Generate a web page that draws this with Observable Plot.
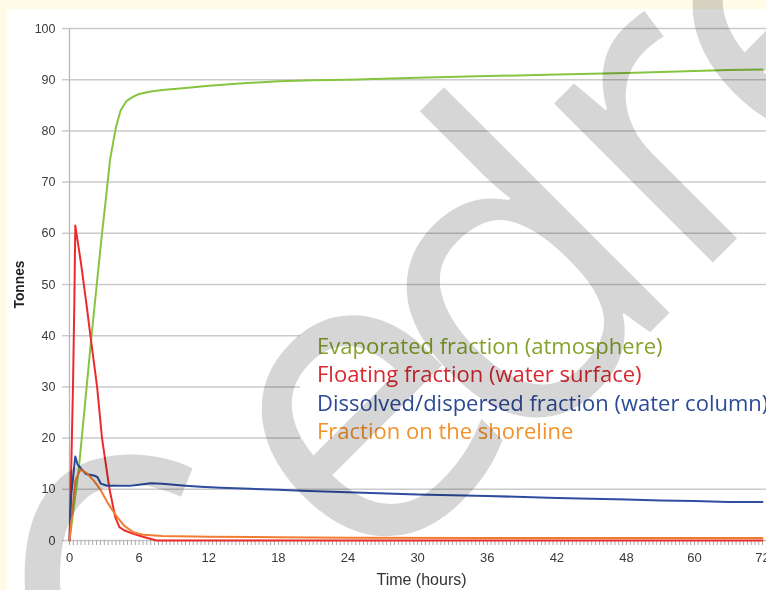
<!DOCTYPE html>
<html><head><meta charset="utf-8">
<script src="https://cdn.jsdelivr.net/npm/d3@7"></script>
<script src="https://cdn.jsdelivr.net/npm/@observablehq/plot@0.6"></script>
<style>
html,body{margin:0;padding:0;background:#fefbe6;width:766px;height:590px;overflow:hidden;position:relative;}
#wrap{position:absolute;left:7px;top:9px;width:800px;height:581px;background:#fff;overflow:hidden;}
#legend{position:absolute;left:293px;top:312px;width:520px;height:128px;background:#fff;box-sizing:border-box;padding:10px 0 0 17px;font-family:'Open Sans',sans-serif;font-size:22px;line-height:28.3px;white-space:nowrap;}
#wm{position:absolute;left:0;top:0;mix-blend-mode:multiply;pointer-events:none;}
</style>
</head>
<body>
<div id="wrap"><div id="chart"></div><div id="legend"></div></div>
<script>
const seriesNames = ["Evaporated fraction (atmosphere)", "Floating fraction (water surface)", "Dissolved/dispersed fraction (water column)", "Fraction on the shoreline"];
const lineColors = ["#86c441", "#ec2b2b", "#2f4c9e", "#f27d32"];
const textColors = ["#86a32c", "#d9282f", "#2c4b97", "#f3922a"];

const evapHours = [0, 0.8, 1.9, 2.8, 3.1, 3.5, 4.0, 4.4, 4.9, 5.5, 6, 7, 8, 10, 12, 15, 18, 21, 24, 30, 36, 42, 48, 54, 60, 66, 72];
const evapTonnes = [0, 14, 40, 60, 66, 74.5, 80.7, 84, 85.8, 86.7, 87.2, 87.7, 88.0, 88.4, 88.8, 89.3, 89.7, 89.9, 90.0, 90.4, 90.7, 91.0, 91.3, 91.5, 91.7, 91.9, 92.0];

const floatHours = [0, 0.1, 0.3, 0.42, 0.5, 0.6, 0.8, 1.0, 1.5, 1.8, 2.38, 2.8, 3.45, 3.95, 4.3, 4.7, 5.5, 6.4, 7.5, 12, 24, 36, 48, 60, 72];
const floatTonnes = [0, 9, 30, 47, 61.5, 60, 57, 54, 45.5, 40, 30, 20, 10, 4.5, 2.6, 2.0, 1.3, 0.7, 0, 0, 0, 0, 0, 0, 0];

const dissHours = [0, 0.15, 0.5, 0.7, 0.95, 1.4, 2.1, 2.4, 2.7, 3.25, 4, 5.2, 6, 7, 8, 9, 10, 11.3, 13, 15.6, 18, 20, 24, 30, 36, 42, 48, 54, 60, 66, 72];
const dissTonnes = [0, 9, 16.4, 14.8, 14.2, 13.0, 12.7, 12.4, 11.1, 10.7, 10.7, 10.7, 10.9, 11.2, 11.1, 10.9, 10.7, 10.5, 10.3, 10.1, 9.9, 9.7, 9.4, 9.0, 8.7, 8.3, 8.0, 7.8, 7.7, 7.5, 7.5];

const shoreHours = [0, 0.5, 0.95, 1.5, 2.1, 2.7, 3.25, 4, 4.7, 5.5, 6.4, 8, 12, 18, 24, 36, 48, 60, 72];
const shoreTonnes = [0, 11.7, 13.9, 13.1, 11.7, 9.8, 7.5, 4.9, 2.9, 1.6, 1.1, 0.9, 0.75, 0.65, 0.55, 0.5, 0.5, 0.5, 0.5];

const yTicks = [0, 10, 20, 30, 40, 50, 60, 70, 80, 90, 100];
const xTicks = [0, 6, 12, 18, 24, 30, 36, 42, 48, 60, 72];
const xBreaks = [0, 48, 72];
const minorTicks = d3.range(0, 48, 1/3).concat(d3.range(48, 72.01, 2/3));
const yLabel = "Tonnes";
const xLabel = "Time (hours)";
const watermark = "cedre";
// watermark glyph centres (page pixels) and rotations
const wmCenters = [[102, 569], [369, 428], [524, 298], [668, 147], [800, 25]];
const wmAngles = [2, -45, -45, -45, -45];

const hoursList = [evapHours, floatHours, dissHours, shoreHours];
const tonnesList = [evapTonnes, floatTonnes, dissTonnes, shoreTonnes];
const rows = seriesNames.flatMap((name, i) => hoursList[i].map((h, j) => ({series: name, hours: h, tonnes: tonnesList[i][j]})));

const chart = Plot.plot({
  width: 800, height: 581,
  marginLeft: 62, marginTop: 19, marginBottom: 50, marginRight: 0,
  style: {background: "transparent", fontFamily: "'Liberation Sans', Arial, sans-serif", overflow: "visible"},
  x: {type: "linear", domain: xBreaks, range: [62, 619, 755]},
  y: {domain: [0, 100], range: [531, 19]},
  color: {domain: seriesNames, range: lineColors},
  marks: [
    Plot.ruleY(yTicks, {stroke: "#cacaca", strokeWidth: 1.5}),
    Plot.ruleX([0], {stroke: "#b8b8b8", strokeWidth: 1.3}),
    Plot.axisY(yTicks, {tickSize: 7, tickPadding: 7, stroke: "#cacaca", strokeWidth: 1.5, fill: "#3a3a3a", fontSize: 12.5, label: null}),
    Plot.axisX(minorTicks, {tickSize: 5, stroke: "#a8a8a8", tickFormat: () => "", label: null}),
    Plot.axisX(xTicks, {tickSize: 0, tickPadding: 12, fill: "#3a3a3a", fontSize: 13, label: null}),
    Plot.line(rows, {x: "hours", y: "tonnes", z: "series", stroke: "series", strokeWidth: 2}),
    Plot.text([yLabel], {frameAnchor: "left", textAnchor: "middle", dx: -50, rotate: -90, fontWeight: "bold", fontSize: 13.8, fill: "#222"}),
    Plot.text([xLabel], {frameAnchor: "bottom", dx: -17, dy: 44, fontSize: 16, fill: "#333"})
  ]
});
document.getElementById("chart").appendChild(chart);

const legend = d3.select("#legend");
seriesNames.forEach((n, i) => legend.append("div").style("color", textColors[i]).text(n));

const wm = d3.select("body").append("svg").attr("id", "wm").attr("width", 766).attr("height", 590);
watermark.split("").forEach((ch, i) => {
  wm.append("text").text(ch)
    .attr("transform", `translate(${wmCenters[i][0]},${wmCenters[i][1]}) rotate(${wmAngles[i]})`)
    .attr("text-anchor", "middle")
    .attr("dy", "0.27em")
    .attr("font-family", "'Open Sans', sans-serif")
    .attr("font-size", 420)
    .attr("fill", "#d6d6d6");
});
</script>
</body></html>
